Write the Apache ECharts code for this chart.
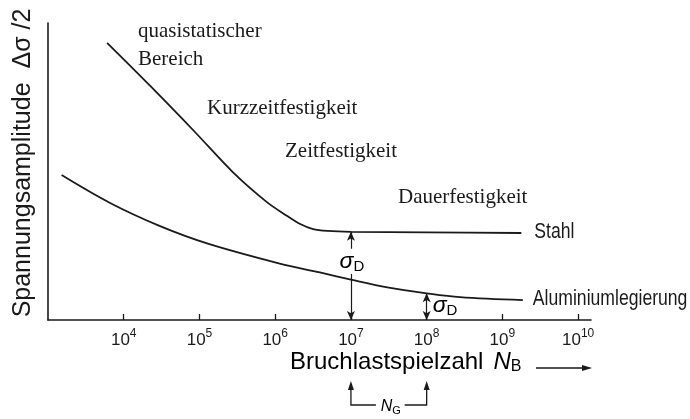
<!DOCTYPE html>
<html>
<head>
<meta charset="utf-8">
<script src="https://cdn.jsdelivr.net/npm/echarts@6/dist/echarts.min.js"></script>
<style>
  html, body { margin: 0; padding: 0; background: #ffffff; }
  #c { width: 690px; height: 419px; }
</style>
</head>
<body>
<div id="c"></div>
<script>
// Wöhler (S-N) curves: x = log10 of cycles to failure, y = relative stress amplitude
const decades = [4, 5, 6, 7, 8, 9, 10];

const stahlLogN = [3.78, 4.35, 4.94, 5.44, 5.89, 6.16, 6.33, 6.50, 6.69, 7.0, 8.0, 9.25];
const stahlAmp  = [93.3, 78.8, 63.3, 49.8, 39.7, 35.0, 32.3, 30.6, 30.0, 29.7, 29.5, 29.3];

const aluLogN = [3.18, 3.82, 4.48, 5.10, 6.06, 6.59, 7.0, 7.48, 8.0, 8.44, 9.27];
const aluAmp  = [48.8, 39.4, 31.6, 25.8, 19.0, 16.0, 13.6, 11.0, 9.0, 7.7, 6.7];

// Knee points (endurance limit) of both materials
const kneeLogN = [7, 8];

const seriesNames = ['Stahl', 'Aluminiumlegierung'];
const regionNames = ['quasistatischer', 'Bereich', 'Kurzzeitfestigkeit', 'Zeitfestigkeit', 'Dauerfestigkeit'];
const axisTitleX = 'Bruchlastspielzahl';
const axisTitleY = 'Spannungsamplitude  Δσ /2';

const ink = '#1a1a1a';
const serif = '"Liberation Serif", "Times New Roman", serif';
const sans = '"Liberation Sans", Arial, sans-serif';

const zip = (xs, ys) => xs.map((x, i) => [x, ys[i]]);
const stahlAtKnee = stahlAmp[stahlLogN.indexOf(kneeLogN[0])];
const aluAtKnee = aluAmp[aluLogN.indexOf(kneeLogN[1])];

const chart = echarts.init(document.getElementById('c'), null, { renderer: 'canvas' });

const arrowLine = { color: ink, width: 1.2, type: 'solid' };

chart.setOption({
  backgroundColor: '#ffffff',
  animation: false,
  grid: { left: 48, right: 99, top: 23, bottom: 99, containLabel: false },
  xAxis: {
    type: 'value',
    min: 3,
    max: 10.17,
    axisLine: { show: true, lineStyle: { color: ink, width: 1.6 } },
    axisTick: { show: true, inside: true, length: 6, customValues: decades,
                lineStyle: { color: ink, width: 1.3 } },
    axisLabel: {
      show: true,
      customValues: decades,
      margin: 8,
      color: ink,
      fontFamily: sans,
      fontSize: 17,
      formatter: v => '10{s|' + v + '}',
      rich: { s: { fontSize: 12, fontFamily: sans, color: ink, padding: [0, 0, 12, 0] } }
    },
    splitLine: { show: false }
  },
  yAxis: {
    type: 'value',
    min: 0,
    max: 100,
    axisLine: { show: true, lineStyle: { color: ink, width: 1.6 } },
    axisTick: { show: false },
    axisLabel: { show: false },
    splitLine: { show: false }
  },
  series: [
    {
      name: seriesNames[0],
      type: 'line',
      data: zip(stahlLogN, stahlAmp),
      smooth: 0.3,
      symbol: 'none',
      lineStyle: { color: ink, width: 1.8 },
      markLine: {
        silent: true,
        animation: false,
        symbolSize: [6, 9],
        label: { show: false },
        lineStyle: arrowLine,
        data: [
          [ { coord: [kneeLogN[0], stahlAtKnee], symbol: 'arrow' },
            { coord: [kneeLogN[0], 24.0], symbol: 'none' } ],
          [ { coord: [kneeLogN[0], 15.5], symbol: 'none' },
            { coord: [kneeLogN[0], 0], symbol: 'arrow' } ]
        ]
      }
    },
    {
      name: seriesNames[1],
      type: 'line',
      data: zip(aluLogN, aluAmp),
      smooth: 0.35,
      symbol: 'none',
      lineStyle: { color: ink, width: 1.8 },
      markLine: {
        silent: true,
        animation: false,
        symbolSize: [6, 9],
        label: { show: false },
        lineStyle: arrowLine,
        data: [
          [ { coord: [kneeLogN[1], aluAtKnee], symbol: 'arrow' },
            { coord: [kneeLogN[1], 0], symbol: 'arrow' } ]
        ]
      }
    }
  ]
});

// Annotations placed through the chart's own coordinate system
const toPx = (x, y) => chart.convertToPixel({ gridIndex: 0 }, [x, y]);
const x7 = toPx(kneeLogN[0], 0)[0];
const x8 = toPx(kneeLogN[1], 0)[0];
const xEnd = toPx(10.17, 0)[0];
const stahlEnd = toPx(stahlLogN[stahlLogN.length - 1], stahlAmp[stahlAmp.length - 1]);
const aluEnd = toPx(aluLogN[aluLogN.length - 1], aluAmp[aluAmp.length - 1]);

const sigmaRich = {
  g: { fontFamily: sans, fontSize: 23, fontStyle: 'italic', color: ink },
  d: { fontFamily: sans, fontSize: 15, color: ink, padding: [9, 0, 0, 0] }
};

function headUp(x, yTip) {
  return { type: 'polygon', shape: { points: [[x, yTip], [x - 3, yTip + 9], [x + 3, yTip + 9]] },
           style: { fill: ink } };
}

// condensed lettering for the material names
function seriesTag(text, pt, gap) {
  return { type: 'text', x: pt[0] + gap, y: pt[1] - 1, scaleX: 0.8,
           style: { text: text, x: 0, y: 0, verticalAlign: 'middle', font: '22px ' + sans, fill: ink } };
}

const graphics = [
  // vertical axis title
  { type: 'text', x: 23, y: 163, rotation: Math.PI / 2,
    style: { text: axisTitleY, x: 0, y: 0, align: 'center', verticalAlign: 'middle',
             font: '25px ' + sans, fill: ink } },
  // region labels
  { type: 'text', style: { text: regionNames[0], x: 138, y: 31, verticalAlign: 'middle', font: '21px ' + serif, fill: ink } },
  { type: 'text', style: { text: regionNames[1], x: 138, y: 59, verticalAlign: 'middle', font: '21px ' + serif, fill: ink } },
  { type: 'text', style: { text: regionNames[2], x: 207, y: 108, verticalAlign: 'middle', font: '21px ' + serif, fill: ink } },
  { type: 'text', style: { text: regionNames[3], x: 285, y: 151, verticalAlign: 'middle', font: '21px ' + serif, fill: ink } },
  { type: 'text', style: { text: regionNames[4], x: 398, y: 197, verticalAlign: 'middle', font: '21px ' + serif, fill: ink } },
  // material names at the curve ends
  seriesTag(seriesNames[0], stahlEnd, 13),
  seriesTag(seriesNames[1], aluEnd, 10),
  // endurance limit labels
  { type: 'text', style: { text: '{g|σ}{d|D}', rich: sigmaRich, x: x7 + 1, y: 262,
                           align: 'center', verticalAlign: 'middle' } },
  { type: 'text', style: { text: '{g|σ}{d|D}', rich: sigmaRich, x: x8 + 6, y: 306,
                           align: 'left', verticalAlign: 'middle' } },
  // horizontal axis title with arrow
  { type: 'text', style: {
      text: '{t|' + axisTitleX + '}   {n|N}{b|B}',
      rich: {
        t: { fontFamily: sans, fontSize: 24, color: ink },
        n: { fontFamily: sans, fontSize: 24, fontStyle: 'italic', color: ink },
        b: { fontFamily: sans, fontSize: 16, color: ink, padding: [9, 0, 0, 0] }
      },
      x: 290, y: 362, align: 'left', verticalAlign: 'middle' } },
  { type: 'line', shape: { x1: 536, y1: 368, x2: xEnd - 6, y2: 368 }, style: { stroke: ink, lineWidth: 1.3 } },
  { type: 'polygon', shape: { points: [[xEnd + 1, 368], [xEnd - 9, 365], [xEnd - 9, 371]] }, style: { fill: ink } },
  // N_G bracket below the axis
  { type: 'polyline', shape: { points: [[x7, 388], [x7, 405], [x7 + 25, 405]] }, style: { stroke: ink, lineWidth: 1.3, fill: null } },
  headUp(x7, 381),
  { type: 'polyline', shape: { points: [[x8, 388], [x8, 405], [x8 - 22, 405]] }, style: { stroke: ink, lineWidth: 1.3, fill: null } },
  headUp(x8, 381),
  { type: 'text', style: {
      text: '{n|N}{g|G}',
      rich: {
        n: { fontFamily: sans, fontSize: 16, fontStyle: 'italic', color: ink },
        g: { fontFamily: sans, fontSize: 11, color: ink, padding: [7, 0, 0, 0] }
      },
      x: (x7 + x8) / 2 + 2, y: 407, align: 'center', verticalAlign: 'middle' } }
];

chart.setOption({ graphic: graphics });
</script>
</body>
</html>
